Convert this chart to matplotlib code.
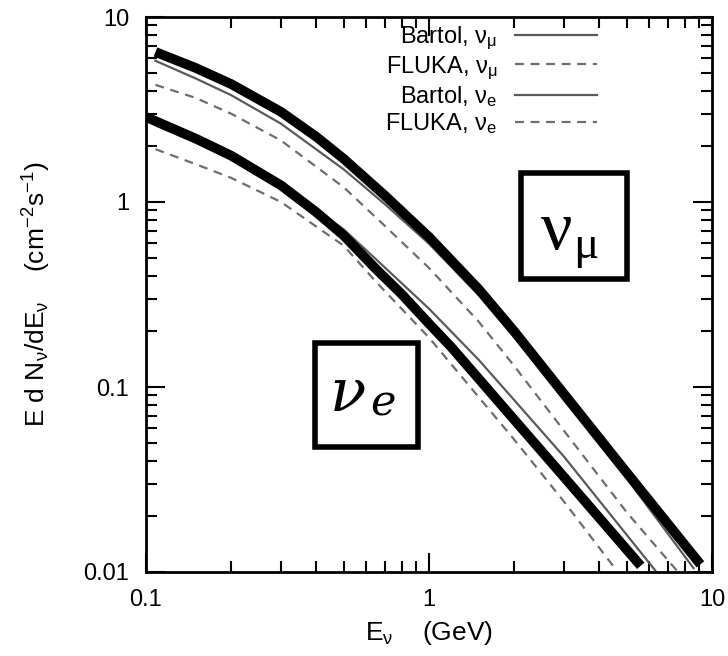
import numpy as np
import matplotlib.pyplot as plt
from matplotlib.patches import Rectangle

# Model curves (thick black)
e_numu_model = [0.108, 0.15, 0.2, 0.3, 0.4, 0.5, 0.7, 1.0, 1.5, 2.0, 3.0, 5.0, 9.1]
f_numu_model = [6.47, 5.3, 4.34, 3.07, 2.25, 1.71, 1.08, 0.647, 0.337, 0.2, 0.0917, 0.0344, 0.011]
e_nue_model = [0.1, 0.15, 0.2, 0.3, 0.4, 0.5, 0.65, 0.8, 1.0, 1.2, 2.0, 3.0, 5.6]
f_nue_model = [2.88, 2.2, 1.78, 1.23, 0.88, 0.658, 0.434, 0.318, 0.22, 0.164, 0.0666, 0.0326, 0.0108]

# Bartol / FLUKA (thin gray)
e_bartol_numu = [0.108, 0.15, 0.2, 0.3, 0.5, 0.7, 1.0, 1.5, 2.0, 3.0, 5.0, 8.6]
f_bartol_numu = [5.8, 4.65, 3.78, 2.65, 1.5, 0.97, 0.595, 0.313, 0.186, 0.085, 0.032, 0.0105]
e_fluka_numu = [0.108, 0.15, 0.2, 0.3, 0.5, 0.7, 1.0, 1.5, 2.0, 3.0, 5.0, 7.5]
f_fluka_numu = [4.3, 3.65, 3.0, 2.15, 1.2, 0.74, 0.44, 0.225, 0.13, 0.058, 0.021, 0.0102]
e_bartol_nue = [0.108, 0.15, 0.2, 0.3, 0.5, 0.65, 1.0, 1.5, 2.0, 3.0, 6.3]
f_bartol_nue = [2.6, 2.1, 1.74, 1.24, 0.71, 0.49, 0.265, 0.14, 0.085, 0.042, 0.0102]
e_fluka_nue = [0.108, 0.15, 0.2, 0.3, 0.5, 0.65, 1.0, 1.5, 2.0, 3.0, 4.6]
f_fluka_nue = [1.93, 1.6, 1.35, 1.0, 0.58, 0.37, 0.185, 0.088, 0.052, 0.024, 0.0102]

legend_labels = [r'Bartol, $\nu_\mu$', r'FLUKA, $\nu_\mu$', r'Bartol, $\nu_e$', r'FLUKA, $\nu_e$']

plt.rcParams['font.family'] = ['Liberation Sans', 'DejaVu Sans']
plt.rcParams['mathtext.fontset'] = 'custom'
plt.rcParams['mathtext.rm'] = 'Liberation Sans'
plt.rcParams['mathtext.it'] = 'Liberation Sans'

fig = plt.figure(figsize=(7.28, 6.56), dpi=100)
# axes box: x 146..712 px, y 17..572 px
ax = fig.add_axes([146 / 728, 84 / 656, 566 / 728, 555 / 656])

gray = '#5a5a5a'
ax.plot(e_bartol_numu, f_bartol_numu, color=gray, lw=1.6, label=legend_labels[0])
ax.plot(e_fluka_numu, f_fluka_numu, color='#6e6e6e', lw=1.6, ls=(0, (4, 3)), label=legend_labels[1])
ax.plot(e_bartol_nue, f_bartol_nue, color=gray, lw=1.6, label=legend_labels[2])
ax.plot(e_fluka_nue, f_fluka_nue, color='#6e6e6e', lw=1.6, ls=(0, (4, 3)), label=legend_labels[3])

ax.plot(e_numu_model, f_numu_model, color='black', lw=7, solid_capstyle='butt')
ax.plot(e_nue_model, f_nue_model, color='black', lw=7, solid_capstyle='butt')

ax.set_xscale('log')
ax.set_yscale('log')
ax.set_xlim(0.1, 10)
ax.set_ylim(0.01, 10)
ax.set_xticks([0.1, 1, 10])
ax.set_xticklabels(['0.1', '1', '10'])
ax.set_yticks([0.01, 0.1, 1, 10])
ax.set_yticklabels(['0.01', '0.1', '1', '10'])
ax.tick_params(which='both', direction='in', top=True, right=True, labelsize=17, pad=12)
ax.tick_params(which='major', length=14, width=1.5)
ax.tick_params(which='minor', length=8, width=1.5)
for s in ax.spines.values():
    s.set_linewidth(2)

ax.set_xlabel(r'E$_\nu$    (GeV)', fontsize=19, labelpad=6)
ax.set_ylabel(r'E d N$_\nu$/dE$_\nu$    (cm$^{-2}$s$^{-1}$)', fontsize=19, labelpad=22)

leg = ax.legend(loc='upper right', bbox_to_anchor=(0.835, 1.025), frameon=False, fontsize=17,
                markerfirst=False, handlelength=3.5, labelspacing=0.1, handletextpad=0.75)
for t in leg.get_texts():
    t.set_ha('right')

# Labelled boxes
ax.add_patch(Rectangle((0.6625, 0.528), 0.187, 0.191, transform=ax.transAxes,
                       fill=False, lw=4, ec='black'))
ax.text(0.726, 0.613, 'ν', transform=ax.transAxes, fontsize=50, family='Liberation Serif',
        ha='center', va='center')
ax.text(0.777, 0.586, 'μ', transform=ax.transAxes, fontsize=34, family='Liberation Serif',
        ha='center', va='center')
ax.add_patch(Rectangle((0.2986, 0.225), 0.182, 0.187, transform=ax.transAxes,
                       fill=False, lw=4, ec='black'))
ax.text(0.357, 0.32, 'ν', transform=ax.transAxes, fontsize=43, family='DejaVu Serif',
        ha='center', va='center', style='italic')
ax.text(0.418, 0.303, 'e', transform=ax.transAxes, fontsize=31, family='DejaVu Serif',
        ha='center', va='center', style='italic')

fig.savefig('out.png', dpi=100)
